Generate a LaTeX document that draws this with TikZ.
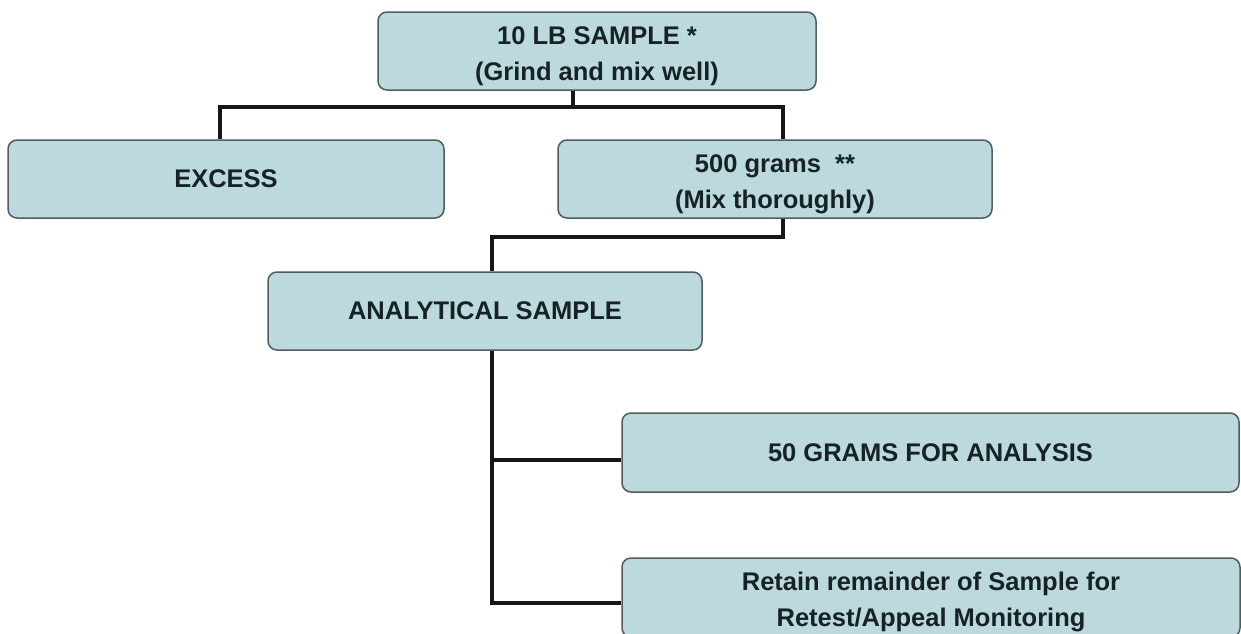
\documentclass[tikz,border=0pt]{standalone}
\usepackage{fontspec}
\setmainfont{Liberation Sans}
\definecolor{boxfill}{RGB}{188,217,221}
\definecolor{boxline}{RGB}{80,92,95}
\definecolor{txt}{RGB}{22,34,38}
\definecolor{connc}{RGB}{22,22,22}
\newcommand{\lowerstrut}{\rule{0pt}{28pt}}
\begin{document}
\begin{tikzpicture}[x=1pt,y=-1pt,
  box/.style={draw=boxline, line width=1.5pt, fill=boxfill, rounded corners=9pt,
    inner sep=0pt, font=\bfseries\fontsize{25.5}{36}\selectfont, text=txt, align=center},
  conn/.style={draw=connc, line width=3.5pt}]
\useasboundingbox (0,0) rectangle (1241,633);
\clip (0,0) rectangle (1241,633);
\fill[white] (0,0) rectangle (1241,633);

\node[box, minimum width=438pt, minimum height=78pt] (top) at (597,51)
  {\lowerstrut 10 LB SAMPLE *\\(Grind and mix well)};
\node[box, minimum width=436pt, minimum height=78pt] (excess) at (226,179) {EXCESS};
\node[box, minimum width=434pt, minimum height=78pt] (g500) at (775,179)
  {\lowerstrut 500 grams\ \ **\\(Mix thoroughly)};
\node[box, minimum width=434pt, minimum height=78pt] (anal) at (485,311) {ANALYTICAL SAMPLE};
\node[box, minimum width=617pt, minimum height=79pt] (g50) at (930.5,452.5) {50 GRAMS FOR ANALYSIS};
\node[box, minimum width=618pt, minimum height=79pt] (retain) at (931,597.5)
  {\lowerstrut Retain remainder of Sample for\\Retest/Appeal Monitoring};

\coordinate (j1) at (573,107);
\draw[conn] ([xshift=-24pt]top.south) -- (j1);
\draw[conn] ([xshift=-6pt]excess.north) |- (j1) -| ([xshift=8pt]g500.north);
\draw[conn] ([xshift=8pt]g500.south) -- ++(0pt,-18pt) -| ([xshift=7pt]anal.north);
\draw[conn] ([xshift=7pt]anal.south) |- ([yshift=-7.5pt]g50.west);
\draw[conn] ([xshift=7pt]anal.south) |- ([yshift=-5.5pt]retain.west);
\end{tikzpicture}
\end{document}
